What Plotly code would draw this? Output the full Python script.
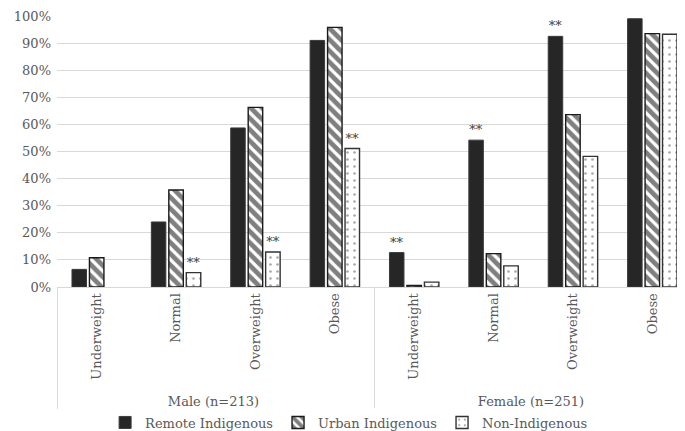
import plotly.graph_objects as go

sex_groups = ["Male (n=213)"] * 4 + ["Female (n=251)"] * 4
bmi_cats = ["Underweight", "Normal", "Overweight", "Obese"] * 2

remote = [0.065, 0.240, 0.587, 0.910, 0.127, 0.542, 0.925, 0.990]
urban = [0.108, 0.358, 0.663, 0.958, 0.006, 0.123, 0.636, 0.935]
non_ind = [None, 0.053, 0.129, 0.511, 0.018, 0.078, 0.482, 0.933]

remote_sig = ["", "", "", "", "**", "**", "**", ""]
urban_sig = ["", "", "", "", "", "", "", ""]
non_sig = ["", "**", "**", "**", "", "", "", ""]

FONT = "DejaVu Serif"
FS = 13
GRAY = "#595959"

fig = go.Figure()
x = [sex_groups, bmi_cats]

common = dict(textposition="outside", constraintext="none", cliponaxis=False,
              textfont=dict(family=FONT, size=13, color="#404040"))

fig.add_trace(go.Bar(
    name="Remote Indigenous", x=x, y=remote, text=remote_sig,
    marker=dict(color="#262626", line=dict(color="#3a3a3a", width=1)),
    **common))
fig.add_trace(go.Bar(
    name="Urban Indigenous", x=x, y=urban, text=urban_sig,
    marker=dict(color="white", line=dict(color="#1a1a1a", width=1.4),
                pattern=dict(shape="\\", fgcolor="black", bgcolor="white",
                             size=8, solidity=0.6)),
    **common))
fig.add_trace(go.Bar(
    name="Non-Indigenous", x=x, y=non_ind, text=non_sig,
    marker=dict(color="white", line=dict(color="#333333", width=1.4),
                pattern=dict(shape=".", fgcolor="#555555", bgcolor="white",
                             size=7, solidity=0.12)),
    **common))

fig.update_layout(
    width=685, height=431,
    margin=dict(l=49, r=1, t=6, b=148),
    paper_bgcolor="white", plot_bgcolor="white",
    barmode="group", bargap=0.34, bargroupgap=0.17,
    font=dict(family=FONT, size=FS, color=GRAY),
    showlegend=True,
    legend=dict(orientation="h", x=0.46, xanchor="center", y=-0.50, yanchor="middle",
                font=dict(family=FONT, size=FS, color=GRAY),
                itemwidth=30, traceorder="normal"),
    xaxis=dict(type="multicategory", showline=True, linecolor="#d9d9d9", linewidth=1,
               tickangle=-90, ticks="", showdividers=True, dividercolor="#d9d9d9",
               dividerwidth=1, tickfont=dict(family=FONT, size=FS, color=GRAY),
               showgrid=False, zeroline=False),
    yaxis=dict(range=[0, 1.0001], tickvals=[i / 10 for i in range(11)],
               tickformat=".0%", showgrid=True, ticklabeloverflow="allow",
               ticklabelstandoff=5,
               gridcolor="#d9d9d9", gridwidth=1, zeroline=False, showline=False,
               ticks="", tickfont=dict(family=FONT, size=FS, color=GRAY)),
)

fig.write_html("out.html")
